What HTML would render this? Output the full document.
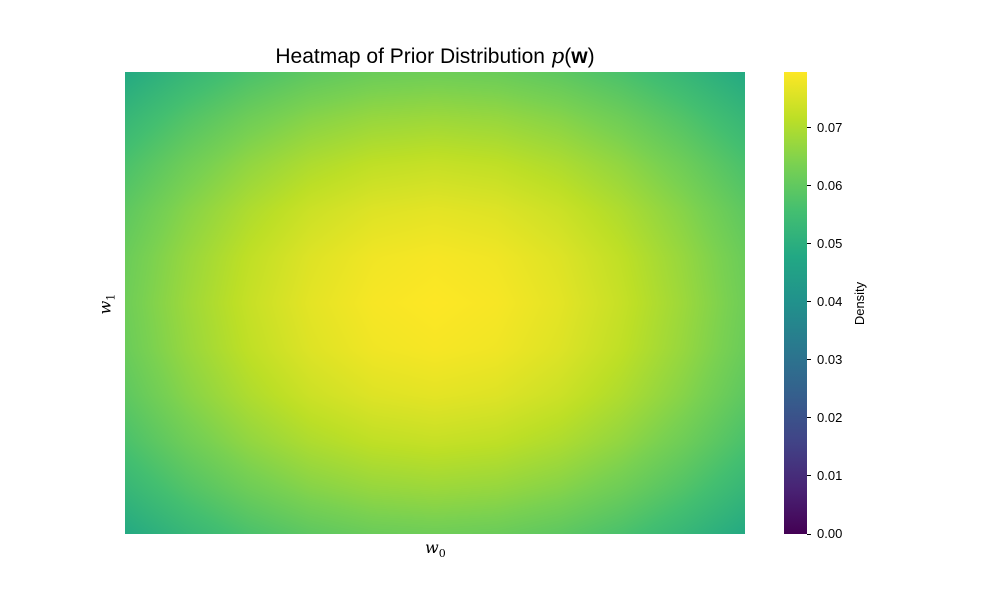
<!DOCTYPE html>
<html><head><meta charset="utf-8"><style>
body{margin:0;background:#fff;}
#root{position:relative;width:1000px;height:600px;font-family:"Liberation Sans","DejaVu Sans",sans-serif;color:#000;}
.t{position:absolute;white-space:nowrap;}
</style></head><body>
<div id="root">
<div class="t" style="left:0;width:870px;text-align:center;top:44px;font-size:21px;">Heatmap of Prior Distribution <i style="font-family:'DejaVu Serif',serif">p</i>(<b>w</b>)</div>
<canvas id="hm" width="620" height="462" style="position:absolute;left:125px;top:72px;"></canvas>
<div class="t" style="left:425px;top:538px;font-size:16px;font-family:'DejaVu Serif',serif;font-style:italic;">w<sub style="font-size:11px;font-style:normal">0</sub></div>
<div class="t" style="left:96px;top:293px;font-size:16px;font-family:'DejaVu Serif',serif;font-style:italic;transform:rotate(-90deg);">w<sub style="font-size:11px;font-style:normal">1</sub></div>
<div id="cb" style="position:absolute;left:784px;top:72px;width:23px;height:462px;"></div>
<div id="cbt"></div>
<div class="t" style="left:838px;top:296px;font-size:13px;transform:rotate(-90deg);">Density</div>
</div>
<script>
const xCats=[-1,-0.8,-0.6,-0.4,-0.2,0,0.2,0.4,0.6,0.8,1];
const yCats=[1,0.8,0.6,0.4,0.2,0,-0.2,-0.4,-0.6,-0.8,-1];
const density=[
[0.0483,0.0528,0.0567,0.0596,0.0614,0.0620,0.0614,0.0596,0.0567,0.0528,0.0483],
[0.0528,0.0578,0.0620,0.0652,0.0671,0.0678,0.0671,0.0652,0.0620,0.0578,0.0528],
[0.0567,0.0620,0.0665,0.0699,0.0720,0.0728,0.0720,0.0699,0.0665,0.0620,0.0567],
[0.0596,0.0652,0.0699,0.0735,0.0757,0.0765,0.0757,0.0735,0.0699,0.0652,0.0596],
[0.0614,0.0671,0.0720,0.0757,0.0780,0.0788,0.0780,0.0757,0.0720,0.0671,0.0614],
[0.0620,0.0678,0.0728,0.0765,0.0788,0.0796,0.0788,0.0765,0.0728,0.0678,0.0620],
[0.0614,0.0671,0.0720,0.0757,0.0780,0.0788,0.0780,0.0757,0.0720,0.0671,0.0614],
[0.0596,0.0652,0.0699,0.0735,0.0757,0.0765,0.0757,0.0735,0.0699,0.0652,0.0596],
[0.0567,0.0620,0.0665,0.0699,0.0720,0.0728,0.0720,0.0699,0.0665,0.0620,0.0567],
[0.0528,0.0578,0.0620,0.0652,0.0671,0.0678,0.0671,0.0652,0.0620,0.0578,0.0528],
[0.0483,0.0528,0.0567,0.0596,0.0614,0.0620,0.0614,0.0596,0.0567,0.0528,0.0483]];
const cbTicks=[0,0.01,0.02,0.03,0.04,0.05,0.06,0.07];
const vmin=0, vmax=0.0796;
const vir=[[68,1,84],[72,36,117],[65,68,135],[53,95,141],[42,120,142],[33,145,140],[34,168,132],[68,191,112],[122,209,81],[189,223,38],[253,231,37]];
function cmap(t){t=Math.max(0,Math.min(1,t))*10;const i=Math.min(9,Math.floor(t)),f=t-i;return vir[i].map((c,k)=>Math.round(c+(vir[i+1][k]-c)*f));}
const cv=document.getElementById('hm'),ctx=cv.getContext('2d');
const W=cv.width,H=cv.height,nx=xCats.length,ny=yCats.length;
const img=ctx.createImageData(W,H);
for(let py=0;py<H;py++){
  let gy=(py+0.5)/H*(ny-1);const j=Math.min(ny-2,Math.floor(gy)),fy=gy-j;
  for(let px=0;px<W;px++){
    let gx=(px+0.5)/W*(nx-1);const i=Math.min(nx-2,Math.floor(gx)),fx=gx-i;
    const v=(density[j][i]*(1-fx)+density[j][i+1]*fx)*(1-fy)+(density[j+1][i]*(1-fx)+density[j+1][i+1]*fx)*fy;
    const c=cmap((v-vmin)/(vmax-vmin)),o=(py*W+px)*4;
    img.data[o]=c[0];img.data[o+1]=c[1];img.data[o+2]=c[2];img.data[o+3]=255;
  }
}
ctx.putImageData(img,0,0);
const cb=document.getElementById('cb');
cb.style.background='linear-gradient(to top,'+vir.map((c,k)=>`rgb(${c})  ${k*10}%`).join(',')+')';
const cbt=document.getElementById('cbt');
const cbY=v=>72+462-(v-vmin)/(vmax-vmin)*462;
cbTicks.forEach(v=>{
  const tk=document.createElement('div');
  
  
  tk.style.cssText=`position:absolute;left:807px;top:${cbY(v)-0.5}px;width:4px;height:1px;background:#000;`;
  cbt.appendChild(tk);
  const lb=document.createElement('div');
  
  
  lb.className='t';
  lb.style.cssText=`left:817px;top:${cbY(v)-8}px;font-size:13px;`;
  lb.textContent=v.toFixed(2);
  cbt.appendChild(lb);
});
</script>
</body></html>
